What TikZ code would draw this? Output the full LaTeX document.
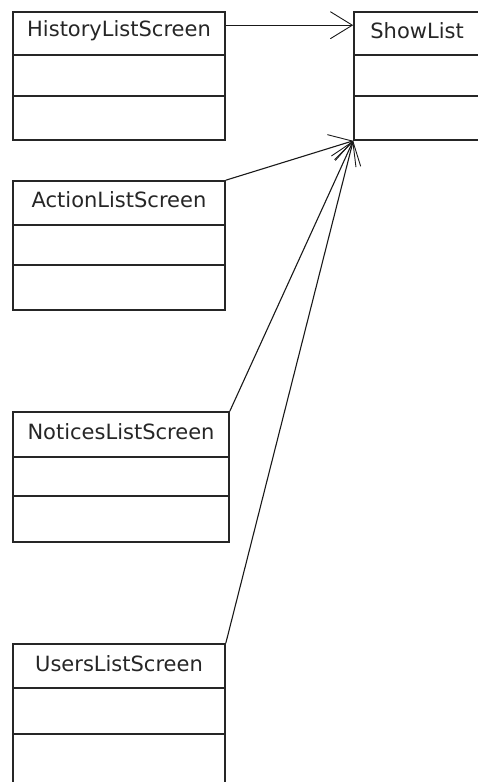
\documentclass[tikz,border=0pt]{standalone}
\usepackage{fontspec}
\setmainfont{DejaVu Sans}
\usetikzlibrary{arrows.meta,calc}
\begin{document}
\begin{tikzpicture}[x=1pt,y=-1pt,
  classbox/.style={draw=black!85,line width=1.6pt,fill=white,inner sep=0pt},
  lbl/.style={font=\fontsize{21}{24}\selectfont,text=black!85,inner sep=0pt},
  dep/.style={draw=black!90,line width=1.1pt,-{Straight Barb[length=22pt,width=27pt,line width=0.9pt]}}]
\useasboundingbox (0,0) rectangle (478,782);
\clip (0,0) rectangle (478,782);
% UML class boxes (name / attributes / operations)
\node[classbox,minimum width=212pt,minimum height=128pt] (hist) at (119,76) {};
\node[classbox,minimum width=200pt,minimum height=128pt] (show) at (454,76) {};
\node[classbox,minimum width=212pt,minimum height=129pt] (act) at (119,245.5) {};
\node[classbox,minimum width=216pt,minimum height=130pt] (notc) at (121,477) {};
\node[classbox,minimum width=212pt,minimum height=180pt] (usr) at (119,734) {};
% compartment dividers
\foreach \b/\a/\c in {hist/44/85,show/44/85,act/45/85,notc/46/85,usr/45/91}{
  \draw[line width=1.6pt,black!85] ([yshift=-\a pt]\b.north west) -- ([yshift=-\a pt]\b.north east);
  \draw[line width=1.6pt,black!85] ([yshift=-\c pt]\b.north west) -- ([yshift=-\c pt]\b.north east);
}
% class names
\node[lbl] (histname) at ([yshift=-20pt]hist.north) {HistoryListScreen};
\node[lbl,anchor=west] (showname) at ([xshift=17pt,yshift=-19pt]show.north west) {ShowList};
\node[lbl] (actname) at ([yshift=-19pt]act.north) {ActionListScreen};
\node[lbl] (notcname) at ([yshift=-20pt]notc.north) {NoticesListScreen};
\node[lbl] (usrname) at ([yshift=-20pt]usr.north) {UsersListScreen};
% dependencies
\draw[dep] ([yshift=-14pt]hist.north east) -- ([yshift=-14pt]show.north west);
\draw[dep] (act.north east) -- (show.south west);
\draw[dep] (notc.north east) -- (show.south west);
\draw[dep] (usr.north east) -- (show.south west);
\end{tikzpicture}
\end{document}
